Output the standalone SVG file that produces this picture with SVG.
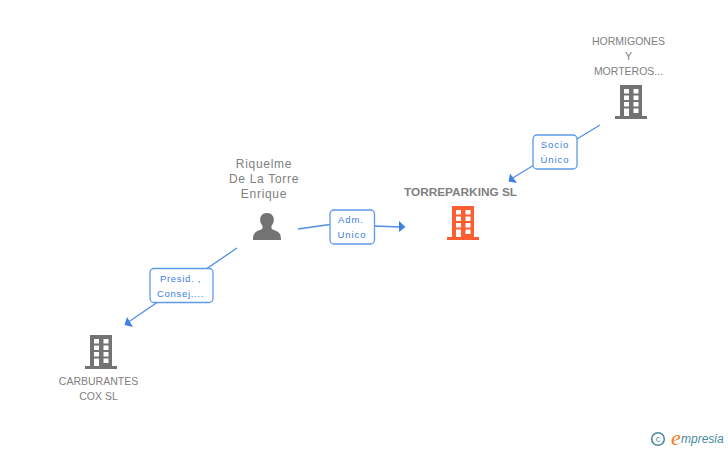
<svg xmlns="http://www.w3.org/2000/svg" width="728" height="450" viewBox="0 0 728 450">
<style>
text{font-family:"Liberation Sans",Arial,sans-serif}
.n{font-size:10.500px;fill:#808080;text-anchor:middle}
.p{font-size:12px;letter-spacing:.7px;fill:#808080;text-anchor:middle}
.t{font-size:11.800px;font-weight:bold;fill:#808080;text-anchor:middle}
.l{font-size:9.500px;letter-spacing:.9px;fill:#3a7de0;text-anchor:middle}
.b{fill:#fff;stroke:#5d9bea;stroke-width:1.300}
.c{fill:none;stroke:#4f8fe6;stroke-width:1.300}
.a{fill:#3f80e0}
</style>
<defs>
<g id="bld">
<path d="M5 0H27V31H32V34H0V31H5ZM9 4V8.500H14V4ZM18.500 4V8.500H23.500V4ZM9 10.500V15H14V10.500ZM18.500 10.500V15H23.500V10.500ZM9 17V21.500H14V17ZM18.500 17V21.500H23.500V17ZM9 23.500V31H14V23.500ZM18.500 23.500V28H23.500V23.500Z" fill-rule="evenodd"/>
</g>
</defs>
<g id="connectors">
<path class="c" d="M600 125L511 179"/>
<path class="a" d="M508.500 181.500L510 173.500L517 183Z"/>
<path class="c" d="M298 229L330 224.500M374 226L400 227"/>
<path class="a" d="M405.500 227L399 221V232Z"/>
<path class="c" d="M237 248L127 323"/>
<path class="a" d="M124.500 325L127 317L133 327Z"/>
</g>
<g id="edge-socio"><rect class="b" x="533" y="135" width="44" height="34" rx="4"/><text class="l" x="555" y="148">Socio</text><text class="l" x="555" y="163">Único</text></g>
<g id="edge-adm"><rect class="b" x="330" y="210" width="44.500" height="34" rx="4"/><text class="l" x="351" y="223">Adm.</text><text class="l" x="352" y="238">Unico</text></g>
<g id="edge-presid"><rect class="b" x="150" y="268.500" width="63" height="34" rx="4"/><text class="l" x="180.500" y="282" style="letter-spacing:.7px">Presid. ,</text><text class="l" x="180.500" y="297" style="letter-spacing:.7px">Consej....</text></g>
<g id="node-hormigones"><text class="n" x="628.500" y="45">HORMIGONES</text><text class="n" x="628.500" y="60">Y</text><text class="n" x="628.500" y="75">MORTEROS...</text><use href="#bld" x="615" y="85" fill="#737373"/></g>
<g id="node-torreparking"><text class="t" x="460.500" y="196">TORREPARKING SL</text><use href="#bld" x="447" y="206" fill="#ff5f30"/></g>
<g id="node-riquelme"><text class="p" x="264" y="168">Riquelme</text><text class="p" x="264" y="183">De La Torre</text><text class="p" x="264" y="198">Enrique</text>
<path d="M253 240C253 233 255 232 260 230C263 229 263 227 262 225C259 222 259 213 267 213C275 213 275 222 272 225C271 227 271 229 274 230C279 232 281 233 281 240Z" fill="#737373"/></g>
<g id="node-carburantes"><use href="#bld" x="85" y="335" fill="#737373"/><text class="n" x="98.500" y="385">CARBURANTES</text><text class="n" x="98.500" y="400">COX SL</text></g>
<g id="watermark"><circle cx="658" cy="439" r="6.300" fill="none" stroke="#4a8a9a" stroke-width="1.600"/><text x="658" y="442" font-size="9" fill="#4a8a9a" text-anchor="middle">c</text><text x="671" y="445" font-size="22" font-style="italic" fill="#f08020" style="font-family:'Liberation Serif',serif">e</text><text x="681" y="443" font-size="12" font-style="italic" fill="#4a8a9a">mpresia</text></g>
</svg>
